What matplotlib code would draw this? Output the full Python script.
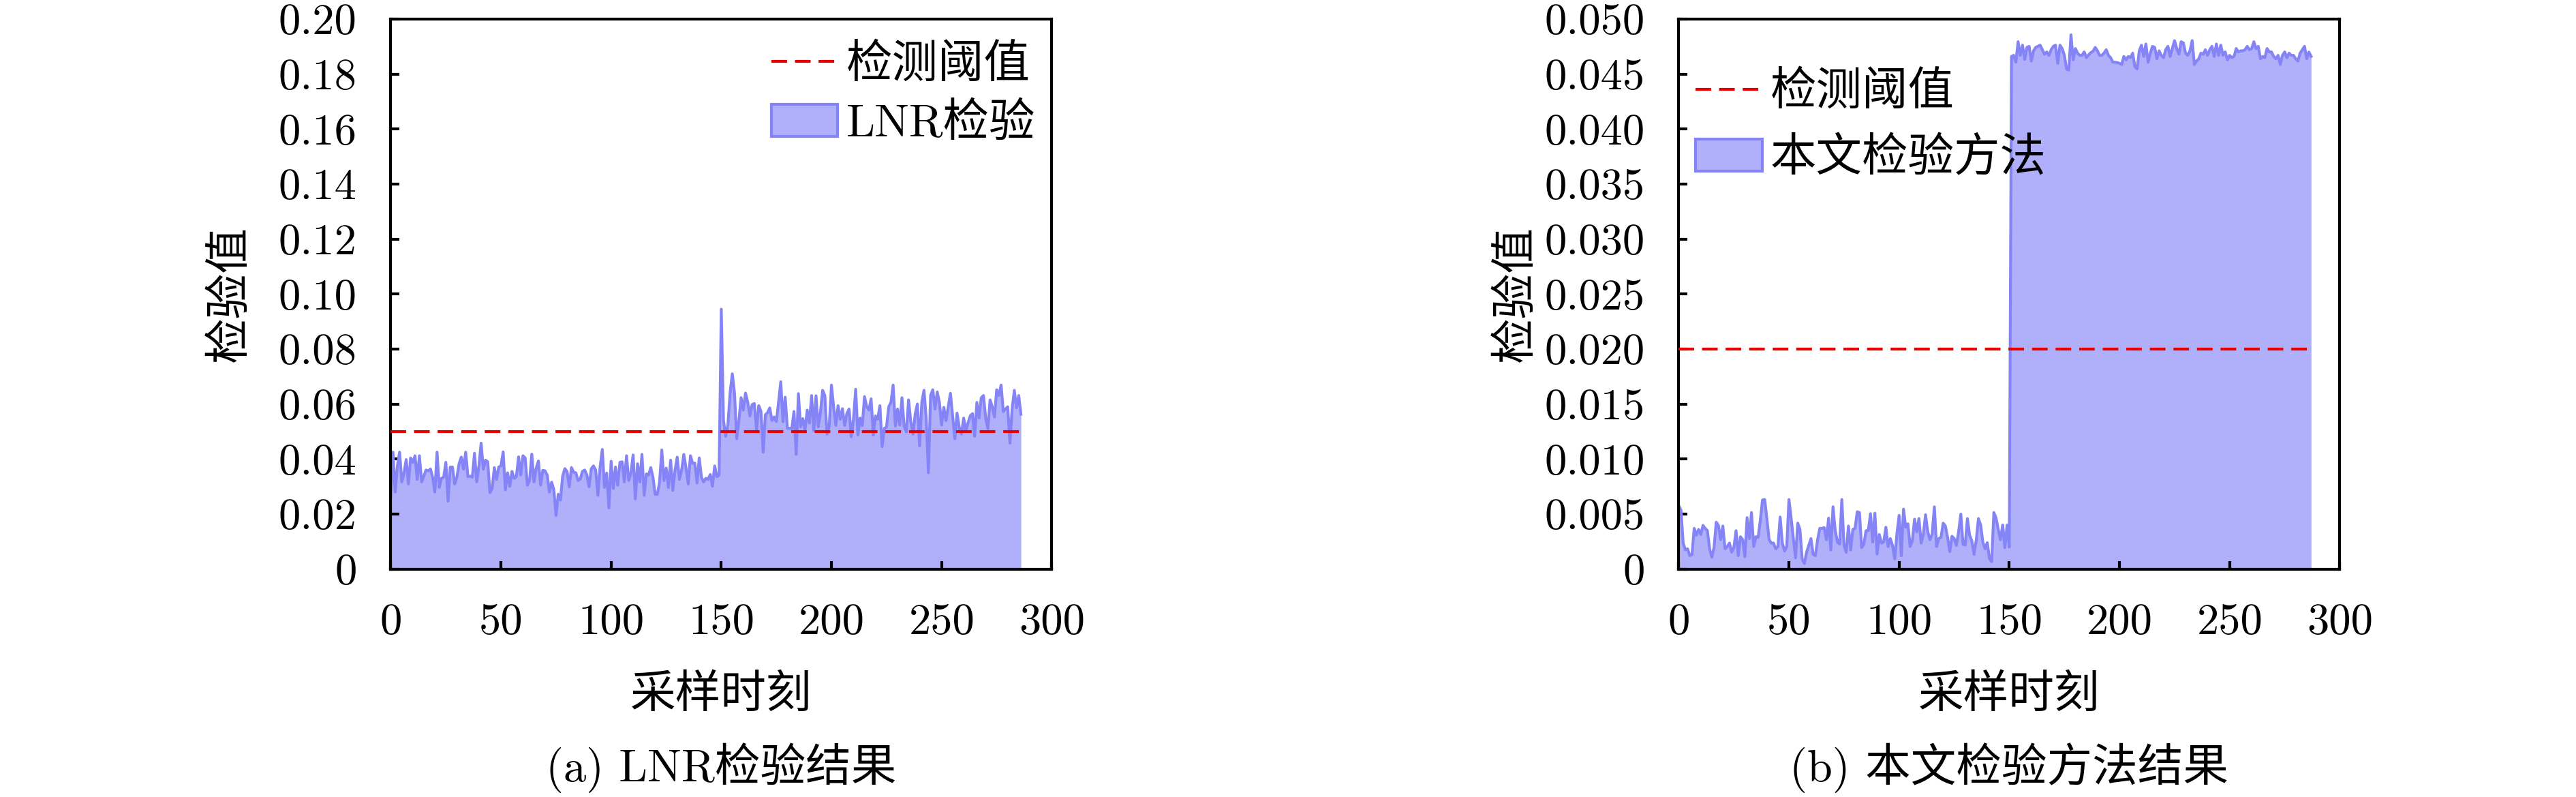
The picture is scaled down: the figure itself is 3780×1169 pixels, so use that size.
import matplotlib
matplotlib.use('Agg')
import matplotlib.pyplot as plt
from matplotlib.patches import Patch
from matplotlib.lines import Line2D

plt.rcParams['font.family'] = ['cmr10', 'Noto Sans CJK SC']
plt.rcParams['axes.unicode_minus'] = False
plt.rcParams['axes.formatter.use_mathtext'] = True

# ---------------- data ----------------
x_ticks = [0, 50, 100, 150, 200, 250, 300]

lnr_threshold = 0.05
lnr_values = [
    0.0264, 0.0425, 0.0280, 0.0375, 0.0425, 0.0317, 0.0350, 0.0398, 0.0309, 0.0404,
    0.0388, 0.0412, 0.0326, 0.0412, 0.0317, 0.0338, 0.0360, 0.0357, 0.0364, 0.0334,
    0.0280, 0.0425, 0.0297, 0.0330, 0.0334, 0.0388, 0.0247, 0.0371, 0.0371, 0.0309,
    0.0334, 0.0383, 0.0407, 0.0363, 0.0425, 0.0336, 0.0338, 0.0334, 0.0421, 0.0317,
    0.0375, 0.0458, 0.0363, 0.0396, 0.0390, 0.0278, 0.0293, 0.0369, 0.0326, 0.0371,
    0.0375, 0.0426, 0.0288, 0.0350, 0.0301, 0.0355, 0.0330, 0.0336, 0.0408,
    0.0342, 0.0412, 0.0404, 0.0305, 0.0322, 0.0418, 0.0317, 0.0367, 0.0393, 0.0305,
    0.0359, 0.0357, 0.0342, 0.0280, 0.0316, 0.0289, 0.0195, 0.0272, 0.0251, 0.0338,
    0.0365, 0.0355, 0.0299, 0.0369, 0.0352, 0.0350, 0.0322, 0.0327, 0.0355, 0.0360,
    0.0342, 0.0299, 0.0365, 0.0375, 0.0360, 0.0268, 0.0371, 0.0435, 0.0297, 0.0349,
    0.0222, 0.0392, 0.0293, 0.0371, 0.0305, 0.0388, 0.0390, 0.0317, 0.0412, 0.0322,
    0.0350, 0.0415, 0.0255, 0.0383, 0.0317, 0.0417, 0.0268, 0.0346, 0.0342, 0.0369,
    0.0334, 0.0272,
    0.0272, 0.0317, 0.0433, 0.0322, 0.0367, 0.0297, 0.0396, 0.0286, 0.0359, 0.0407,
    0.0326, 0.0359, 0.0417, 0.0367, 0.0309, 0.0412, 0.0385, 0.0385, 0.0313, 0.0404,
    0.0334, 0.0317, 0.0330, 0.0326, 0.0344, 0.0301, 0.0375, 0.0336, 0.0342, 0.0945,
    0.0540, 0.0483, 0.0524, 0.0640, 0.0710, 0.0640, 0.0474, 0.0540, 0.0623, 0.0578,
    0.0640, 0.0607, 0.0557, 0.0598, 0.0602, 0.0507, 0.0594, 0.0574, 0.0425, 0.0561,
    0.0569, 0.0586, 0.0540, 0.0553, 0.0536, 0.0607, 0.0681, 0.0536, 0.0625, 0.0512,
    0.0512,
    0.0511, 0.0573, 0.0417, 0.0638, 0.0517, 0.0547, 0.0507, 0.0578, 0.0531, 0.0631,
    0.0503, 0.0630, 0.0517, 0.0569, 0.0650, 0.0631, 0.0491, 0.0520, 0.0669, 0.0590,
    0.0522, 0.0594, 0.0545, 0.0583, 0.0522, 0.0565, 0.0582, 0.0481, 0.0545, 0.0654,
    0.0487, 0.0549, 0.0522, 0.0627, 0.0590, 0.0578, 0.0619, 0.0487, 0.0557, 0.0545,
    0.0594, 0.0445, 0.0511, 0.0517, 0.0590, 0.0606, 0.0669, 0.0520, 0.0582, 0.0524,
    0.0623, 0.0520, 0.0499, 0.0615, 0.0536, 0.0491, 0.0563, 0.0600, 0.0448, 0.0606,
    0.0650,
    0.0549, 0.0350, 0.0631, 0.0652, 0.0582, 0.0644, 0.0606, 0.0524, 0.0588, 0.0540,
    0.0590, 0.0639, 0.0557, 0.0474, 0.0567, 0.0516, 0.0491, 0.0549, 0.0503, 0.0532,
    0.0557, 0.0565, 0.0483, 0.0606, 0.0549, 0.0623, 0.0631, 0.0549, 0.0511, 0.0615,
    0.0590, 0.0553, 0.0652, 0.0631, 0.0669, 0.0573, 0.0582, 0.0590, 0.0458, 0.0582,
    0.0650, 0.0586, 0.0631, 0.0563,
]

ours_threshold = 0.02
ours_values = [
    0.00576, 0.00535, 0.00236, 0.00174, 0.00184, 0.00122, 0.00133, 0.00370, 0.00308, 0.00360,
    0.00314, 0.00397, 0.00370, 0.00349, 0.00184, 0.00108, 0.00195, 0.00426, 0.00397, 0.00267,
    0.00391, 0.00184, 0.00205, 0.00236, 0.00153, 0.00195, 0.00349, 0.00122, 0.00294, 0.00267,
    0.00112, 0.00467, 0.00277, 0.00514, 0.00205, 0.00294, 0.00288, 0.00442, 0.00628, 0.00632,
    0.00453, 0.00267, 0.00236, 0.00236, 0.00184, 0.00205, 0.00473, 0.00236, 0.00164, 0.00205,
    0.00632, 0.00463, 0.00277, 0.00102, 0.00417, 0.00360, 0.00092, 0.00050, 0.00153, 0.00215,
    0.00277, 0.00133, 0.00122, 0.00267, 0.00370, 0.00370, 0.00376, 0.00267, 0.00463, 0.00174,
    0.00566, 0.00349, 0.00246, 0.00226, 0.00632, 0.00215, 0.00153, 0.00391, 0.00174, 0.00360,
    0.00370, 0.00521, 0.00514, 0.00195, 0.00226, 0.00349, 0.00349, 0.00504, 0.00246, 0.00508,
    0.00137, 0.00314, 0.00236, 0.00246, 0.00380, 0.00205, 0.00277, 0.00215, 0.00092, 0.00318,
    0.00488, 0.00122, 0.00545, 0.00380, 0.00411, 0.00205, 0.00257, 0.00453, 0.00339, 0.00459,
    0.00236, 0.00318, 0.00494, 0.00339, 0.00267, 0.00318, 0.00566, 0.00205, 0.00277, 0.00288,
    0.00417, 0.00391, 0.00288, 0.00158, 0.00298, 0.00277, 0.00215, 0.00339, 0.00500, 0.00226,
    0.00219, 0.00459, 0.00308, 0.00257, 0.00133, 0.00261, 0.00459, 0.00401, 0.00246, 0.00184,
    0.00240, 0.00096, 0.00067, 0.00514, 0.00463, 0.00360, 0.00267, 0.00401, 0.00195, 0.00400,
    0.00200,
    0.04660, 0.04670, 0.04608, 0.04794, 0.04670, 0.04763, 0.04633, 0.04742, 0.04752, 0.04618,
    0.04711, 0.04742, 0.04752, 0.04763, 0.04721, 0.04680, 0.04701, 0.04670, 0.04721, 0.04752,
    0.04763, 0.04598, 0.04763, 0.04732, 0.04670, 0.04546, 0.04536, 0.04856, 0.04629, 0.04732,
    0.04690, 0.04670, 0.04670, 0.04701, 0.04649, 0.04674, 0.04695, 0.04707, 0.04742, 0.04711,
    0.04670, 0.04670, 0.04690, 0.04721, 0.04670, 0.04649, 0.04608, 0.04608, 0.04604, 0.04598,
    0.04587, 0.04660, 0.04629, 0.04660, 0.04649, 0.04690, 0.04567, 0.04546, 0.04711, 0.04763,
    0.04660, 0.04773, 0.04608, 0.04690, 0.04752, 0.04742, 0.04639, 0.04711, 0.04670, 0.04649,
    0.04721, 0.04752, 0.04660, 0.04732, 0.04804, 0.04732, 0.04680, 0.04794, 0.04783, 0.04690,
    0.04670, 0.04711, 0.04804, 0.04587, 0.04618, 0.04639, 0.04690, 0.04680, 0.04721, 0.04670,
    0.04721, 0.04752, 0.04660, 0.04773, 0.04670, 0.04763, 0.04670, 0.04701, 0.04629, 0.04670,
    0.04649, 0.04660, 0.04732, 0.04701, 0.04711, 0.04711, 0.04721, 0.04752, 0.04721, 0.04732,
    0.04794, 0.04732, 0.04752, 0.04639, 0.04660, 0.04649, 0.04732, 0.04701, 0.04701, 0.04660,
    0.04639, 0.04670, 0.04587, 0.04670, 0.04701, 0.04649, 0.04690, 0.04670, 0.04670, 0.04639,
    0.04618, 0.04690, 0.04721, 0.04752, 0.04639, 0.04700, 0.04660,
]

lnr_yticks = [0, 0.02, 0.04, 0.06, 0.08, 0.10, 0.12, 0.14, 0.16, 0.18, 0.20]
lnr_ylabels = ['0', '0.02', '0.04', '0.06', '0.08', '0.10', '0.12', '0.14', '0.16', '0.18', '0.20']
ours_yticks = [0, 0.005, 0.010, 0.015, 0.020, 0.025, 0.030, 0.035, 0.040, 0.045, 0.050]
ours_ylabels = ['0', '0.005', '0.010', '0.015', '0.020', '0.025', '0.030', '0.035', '0.040', '0.045', '0.050']

threshold_label = '检测阈值'
lnr_label = 'LNR检验'
ours_label = '本文检验方法'
ylabel_text = '检验值'
xlabel_text = '采样时刻'
caption_a = '(a) LNR检验结果'
caption_b = '(b) 本文检验方法结果'

# ---------------- style ----------------
FILL = '#b0b0fa'
LINE = '#8484f6'
RED = '#e60000'
FS = 15.5
LFS = 16.2

fig = plt.figure(figsize=(12.6, 3.8967), dpi=300)
axL = fig.add_axes([0.1517, 0.2860, 0.2566, 0.6901])
axR = fig.add_axes([0.6517, 0.2860, 0.2566, 0.6901])


def draw(ax, values, thr, yticks, ylabels, ylim, label, caption, leg_loc, leg_anchor, lspace):
    xs = list(range(len(values)))
    ax.fill_between(xs, 0, values, color=FILL, lw=0, zorder=1)
    ax.plot(xs, values, color=LINE, lw=1.0, zorder=2)
    ax.plot([xs[0], xs[-1] + 1], [thr, thr], color=RED, lw=1.0, dashes=(5.5, 2.8), zorder=3)
    ax.set_xlim(0, 300)
    ax.set_ylim(*ylim)
    ax.set_xticks(x_ticks)
    ax.set_xticklabels([str(t) for t in x_ticks])
    ax.set_yticks(yticks)
    ax.set_yticklabels(ylabels)
    ax.tick_params(direction='in', length=3.0, width=1.0, top=False, right=False,
                   labelsize=FS, pad=12)
    for s in ax.spines.values():
        s.set_linewidth(1.0)
    ax.set_ylabel(ylabel_text, fontsize=FS + 0.5, va='center', ha='center')
    ax.set_xlabel(xlabel_text, fontsize=FS + 0.5, va='center', ha='center')
    ax.xaxis.set_label_coords(0.5, -0.230)
    ax.text(0.5, -0.361, caption, transform=ax.transAxes, ha='center', va='center',
            fontsize=FS + 0.5)
    handles = [Line2D([], [], color=RED, lw=1.0, dashes=(5.5, 2.8)),
               Patch(facecolor=FILL, edgecolor=LINE, lw=1.0)]
    ax.legend(handles, [threshold_label, label], loc=leg_loc, bbox_to_anchor=leg_anchor,
              frameon=False, fontsize=LFS, handlelength=1.45, handletextpad=0.18,
              labelspacing=lspace, borderpad=0, borderaxespad=0)


draw(axL, lnr_values, lnr_threshold, lnr_yticks, lnr_ylabels, (0, 0.20), lnr_label, caption_a,
     'upper right', (0.975, 0.955), 0.35)
draw(axR, ours_values, ours_threshold, ours_yticks, ours_ylabels, (0, 0.050), ours_label, caption_b,
     'upper left', (0.025, 0.905), 0.5)
axL.yaxis.set_label_coords(-0.243, 0.5)
axR.yaxis.set_label_coords(-0.246, 0.5)

fig.savefig('out.png', dpi=300)
